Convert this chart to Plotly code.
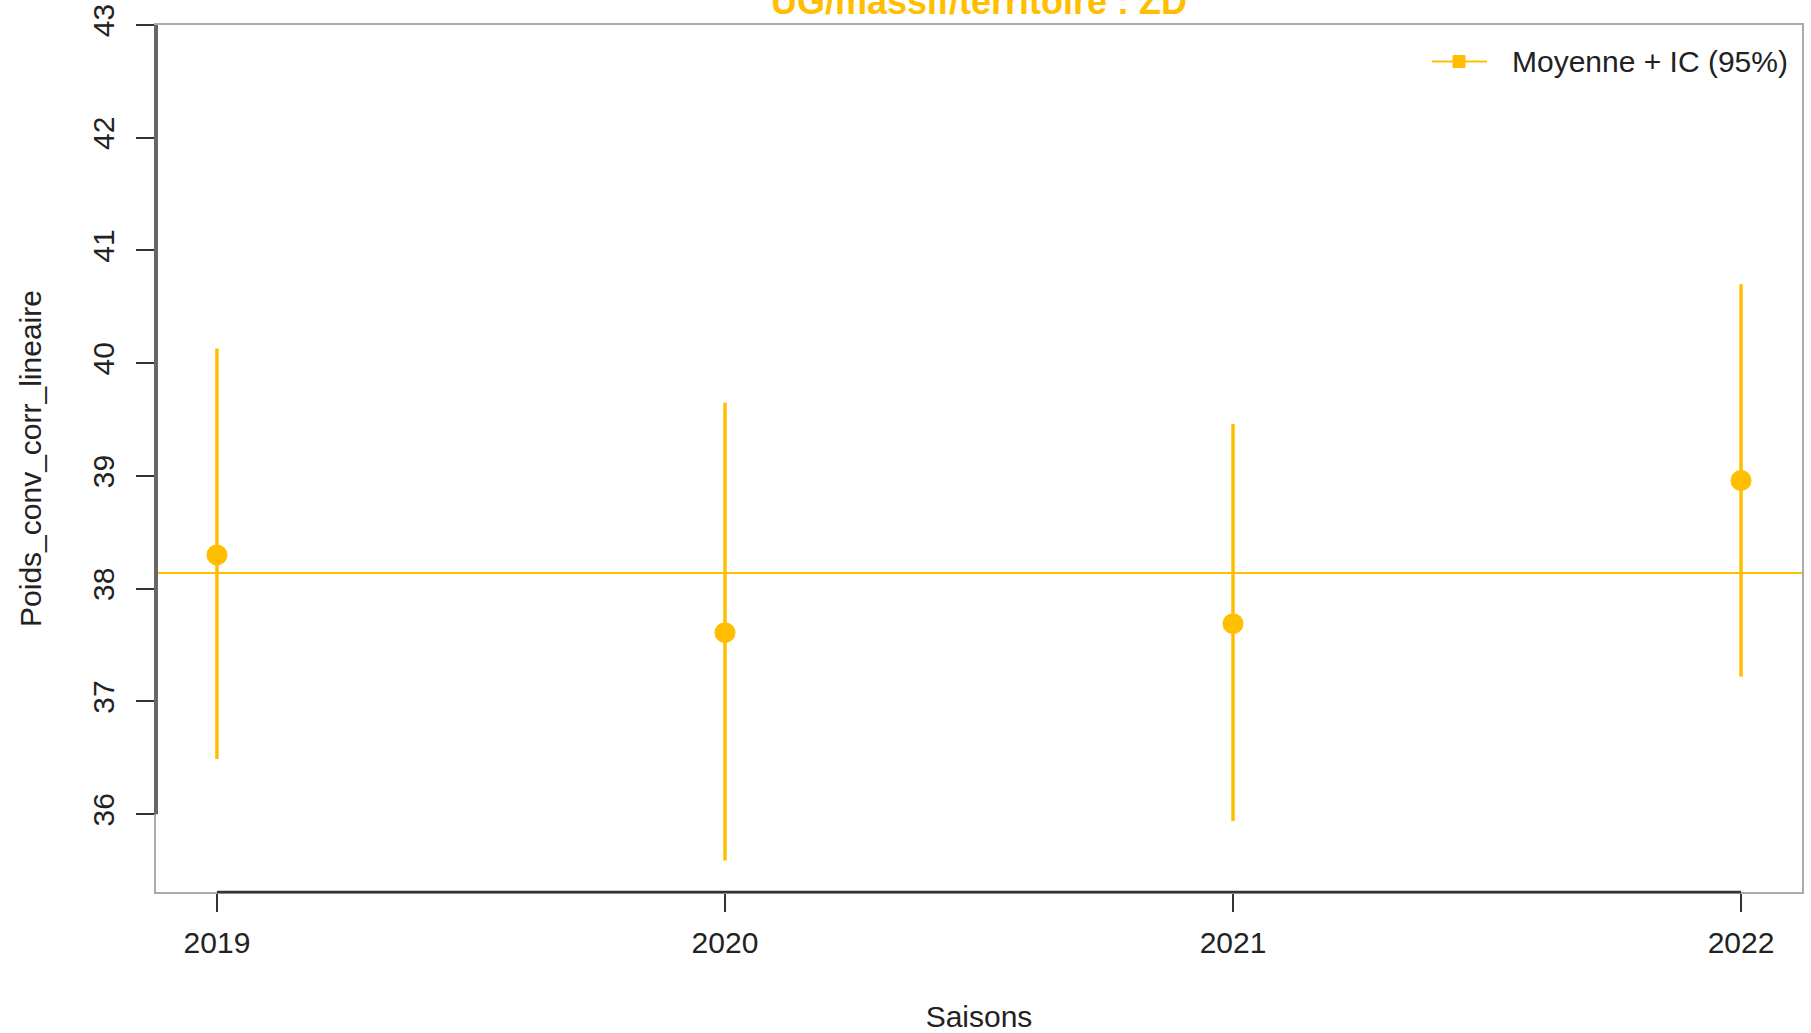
import plotly.graph_objects as go
import numpy as np

# ---- data ----
seasons = [2019, 2020, 2021, 2022]
means = [38.30, 37.61, 37.69, 38.96]
ci_low = [36.49, 35.59, 35.94, 37.22]
ci_high = [40.13, 39.65, 39.46, 40.70]
y_ticks = [36, 37, 38, 39, 40, 41, 42, 43]
title_text = "UG/massif/territoire : ZD"
y_title = "Poids_conv_corr_lineaire"
x_title = "Saisons"
legend_label = "Moyenne + IC (95%)"

AMBER = "#FFBF00"
FONT = "Liberation Sans, Arial, sans-serif"

W, H = 1811, 1033
ML, MR, MT, MB = 156, 9, 25, 141
PW, PH = W - ML - MR, H - MT - MB


def px_x(p):
    return (p - ML) / PW


def px_y(p):
    return (H - MB - p) / PH


err_plus = [h - m for h, m in zip(ci_high, means)]
err_minus = [m - l for m, l in zip(means, ci_low)]
overall = float(np.mean(means))

fig = go.Figure()
fig.add_trace(go.Scatter(
    x=seasons, y=means, mode="markers", name=legend_label,
    marker=dict(color=AMBER, size=21, symbol="circle"),
    error_y=dict(type="data", symmetric=False, array=err_plus, arrayminus=err_minus,
                 color=AMBER, thickness=3.5, width=0),
    showlegend=False,
))

# overall mean line
fig.add_shape(type="line", xref="paper", x0=0, x1=1, yref="y", y0=overall, y1=overall,
              line=dict(color=AMBER, width=2), layer="above")
# R-style axis segments
fig.add_shape(type="line", xref="paper", x0=0, x1=0, yref="y", y0=min(y_ticks), y1=max(y_ticks),
              line=dict(color="#666666", width=4), layer="above")
fig.add_shape(type="line", xref="x", x0=min(seasons), x1=max(seasons), yref="paper", y0=0, y1=0,
              line=dict(color="#333333", width=2.5), layer="above")

# legend (R-style: line with square marker)
ly = px_y(61.5)
fig.add_shape(type="line", xref="paper", yref="paper", x0=px_x(1432), x1=px_x(1487), y0=ly, y1=ly,
              line=dict(color=AMBER, width=2))
fig.add_shape(type="rect", xref="paper", yref="paper",
              x0=px_x(1453), x1=px_x(1465), y0=px_y(67.5), y1=px_y(55.5),
              line=dict(color=AMBER, width=1), fillcolor=AMBER)
fig.add_annotation(text=legend_label, xref="paper", yref="paper", x=px_x(1510), y=ly,
                   xanchor="left", yanchor="middle", showarrow=False,
                   font=dict(family=FONT, size=30, color="#222222"))

fig.add_annotation(text="<b>" + title_text + "</b>", xref="paper", yref="paper", x=0.5, y=1,
                   xanchor="center", yanchor="bottom", yshift=1, showarrow=False,
                   font=dict(family=FONT, size=36, color=AMBER))

fig.update_layout(
    width=W, height=H,
    margin=dict(l=ML, r=MR, t=MT, b=MB),
    paper_bgcolor="white", plot_bgcolor="white",
    font=dict(family=FONT, size=30, color="#222222"),
    showlegend=False,
    xaxis=dict(range=[2018.88, 2022.12], tickvals=seasons, ticktext=[str(s) for s in seasons],
               ticks="outside", ticklen=18, tickwidth=1.5, tickcolor="#333333",
               showgrid=False, zeroline=False, showline=True, linecolor="#aaaaaa", linewidth=2,
               mirror=True, automargin=False, ticklabelstandoff=5,
               title=dict(text=x_title, standoff=48, font=dict(size=30)),
               tickfont=dict(size=30)),
    yaxis=dict(range=[35.31, 43.0], tickvals=y_ticks, ticks="outside", ticklen=18,
               tickwidth=1.5, tickcolor="#333333", tickangle=-90,
               showgrid=False, zeroline=False, showline=True, linecolor="#aaaaaa", linewidth=2,
               mirror=True, automargin=False, ticklabelstandoff=10,
               title=dict(text=y_title, standoff=37, font=dict(size=30)),
               tickfont=dict(size=30)),
)

fig.write_html(
    "out.html",
    config={"displayModeBar": False},
    post_script="document.body.style.margin='0';document.body.style.overflow='hidden';",
)
